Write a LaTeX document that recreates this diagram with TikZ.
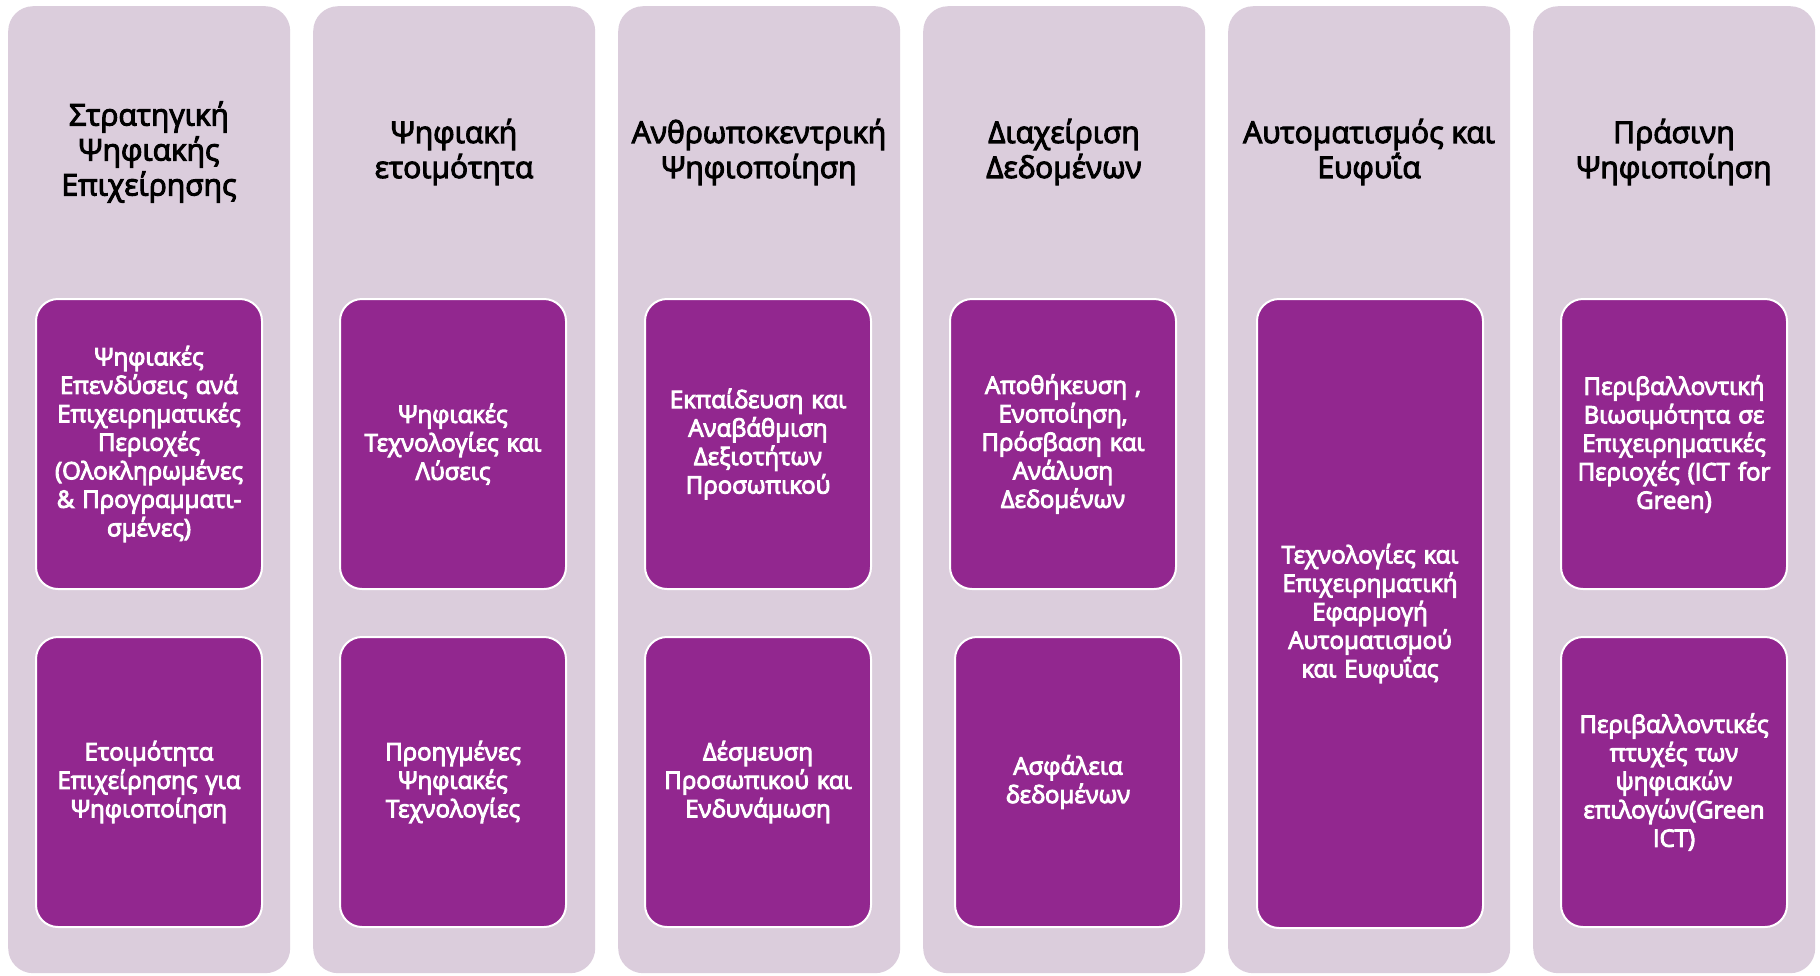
\documentclass[tikz,border=0pt]{standalone}
\usepackage{fontspec}
\setmainfont{Open Sans}
\newfontfamily\titlefont{Open Sans}[FakeBold=3.5]
\newfontfamily\boxfont{Open Sans}[FakeBold=4]
\definecolor{colbg}{RGB}{219,205,220}
\definecolor{boxfill}{RGB}{146,39,143}
\begin{document}
\begin{tikzpicture}[x=1pt,y=-1pt,
  colnode/.style={fill=colbg, rounded corners=25pt, inner sep=0pt,
    minimum width=282pt, minimum height=967pt, anchor=north west},
  titletext/.style={align=center, text=black, inner sep=0pt,
    font=\titlefont\fontsize{30}{35}\selectfont},
  itembox/.style={fill=boxfill, draw=white, line width=2pt, rounded corners=22pt,
    inner sep=0pt, minimum width=226pt, anchor=north west, text=white,
    align=center, text width=224pt, font=\boxfont\fontsize{24}{28.5}\selectfont},
  tall/.style={minimum height=290pt},
  full/.style={minimum height=629pt}]
\useasboundingbox (0,0) rectangle (1820,975);
\fill[white] (0,0) rectangle (1820,975);
% columns
\node[colnode] (c1) at (8,6) {};
\node[colnode] (c2) at (313,6) {};
\node[colnode] (c3) at (618,6) {};
\node[colnode] (c4) at (923,6) {};
\node[colnode] (c5) at (1228,6) {};
\node[colnode] (c6) at (1533,6) {};
% titles
\node[titletext] (t1) at (149,152) {Στρατηγική\\Ψηφιακής\\Επιχείρησης};
\node[titletext] (t2) at (454,152) {Ψηφιακή\\ετοιμότητα};
\node[titletext] (t3) at (759,152) {Ανθρωποκεντρική\\Ψηφιοποίηση};
\node[titletext] (t4) at (1064,152) {Διαχείριση\\Δεδομένων};
\node[titletext] (t5) at (1369,152) {Αυτοματισμός και\\Ευφυΐα};
\node[titletext] (t6) at (1674,152) {Πράσινη\\Ψηφιοποίηση};
% boxes
\node[itembox, tall] (b1a) at (35,298)
  {Ψηφιακές\\Επενδύσεις ανά\\Επιχειρηματικές\\Περιοχές\\(Ολοκληρωμένες\\\& Προγραμματι-\\σμένες)};
\node[itembox, tall] (b1b) at (35,636) {Ετοιμότητα\\Επιχείρησης για\\Ψηφιοποίηση};
\node[itembox, tall] (b2a) at (339,298) {Ψηφιακές\\Τεχνολογίες και\\Λύσεις};
\node[itembox, tall] (b2b) at (339,636) {Προηγμένες\\Ψηφιακές\\Τεχνολογίες};
\node[itembox, tall] (b3a) at (644,298) {Εκπαίδευση και\\Αναβάθμιση\\Δεξιοτήτων\\Προσωπικού};
\node[itembox, tall] (b3b) at (644,636) {Δέσμευση\\Προσωπικού και\\Ενδυνάμωση};
\node[itembox, tall] (b4a) at (949,298) {Αποθήκευση ,\\Ενοποίηση,\\Πρόσβαση και\\Ανάλυση\\Δεδομένων};
\node[itembox, tall] (b4b) at (954,636) {Ασφάλεια\\δεδομένων};
\node[itembox, full] (b5) at (1256,298) {Τεχνολογίες και\\Επιχειρηματική\\Εφαρμογή\\Αυτοματισμού\\και Ευφυΐας};
\node[itembox, tall] (b6a) at (1560,298) {Περιβαλλοντική\\Βιωσιμότητα σε\\Επιχειρηματικές\\Περιοχές (ICT for\\Green)};
\node[itembox, tall] (b6b) at (1560,636) {Περιβαλλοντικές\\πτυχές των\\ψηφιακών\\επιλογών(Green\\ICT)};
\end{tikzpicture}
\end{document}
